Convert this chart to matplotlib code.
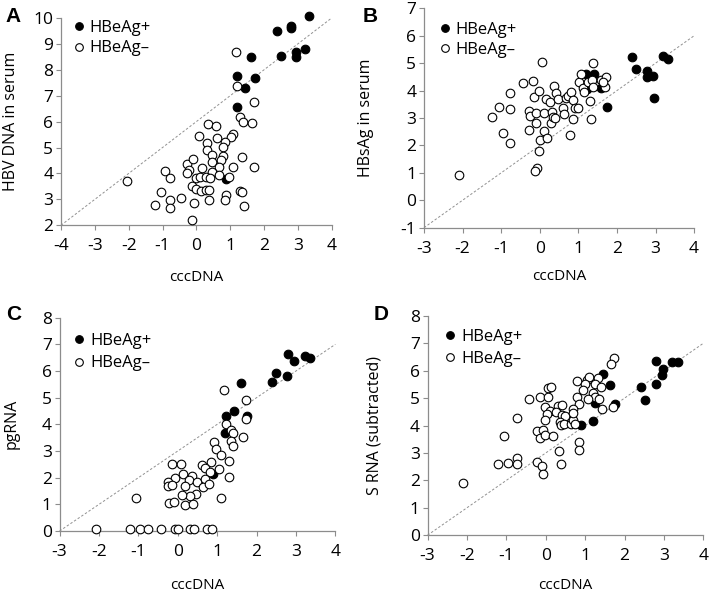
import numpy as np
import matplotlib
matplotlib.use("Agg")
import matplotlib.pyplot as plt
from matplotlib.lines import Line2D

plt.rcParams['font.family'] = ['Open Sans', 'DejaVu Sans']
plt.rcParams['axes.unicode_minus'] = False

# ---- panel A: HBV DNA in serum vs cccDNA
a_pos_x = [3.33, 2.78, 2.79, 2.39, 3.20, 2.93, 2.95, 2.50, 1.60, 1.21, 1.74, 1.43, 1.19, 0.87]
a_pos_y = [10.07, 9.70, 9.62, 9.48, 8.80, 8.67, 8.50, 8.53, 8.50, 7.76, 7.70, 7.30, 6.57, 3.79]
a_neg_x = [1.16, 1.21, 1.69, 1.28, 1.38, 1.63, 0.35, 0.59, 1.08, 1.01, 0.07, 0.61, 0.84, 0.32,
           0.79, 0.30, 0.45, 0.79, 1.36, 0.47, 0.72, -0.27, -0.10, 1.08, 1.71, 0.67, 0.17, -0.23,
           -0.27, -0.94, -0.77, 0.45, 0.00, 0.12, 0.28, 0.40, 0.67, 0.95, -0.14, 0.00, 0.14, 0.28,
           0.36, 1.28, 1.34, -1.06, 0.87, -0.45, -0.77, 0.37, 0.85, -1.22, -0.77, -0.08, 1.40,
           -0.12, -2.05]
a_neg_y = [8.68, 7.38, 6.74, 6.16, 6.00, 5.96, 5.89, 5.82, 5.53, 5.40, 5.45, 5.35, 5.22, 5.19,
           5.02, 4.92, 4.70, 4.66, 4.64, 4.45, 4.50, 4.38, 4.55, 4.25, 4.25, 4.25, 4.21, 4.12,
           4.02, 4.08, 3.83, 4.06, 3.84, 3.87, 3.85, 3.83, 3.93, 3.87, 3.51, 3.40, 3.31, 3.38,
           3.35, 3.32, 3.30, 3.29, 3.17, 3.05, 2.96, 2.99, 2.97, 2.77, 2.67, 2.87, 2.73,
           2.19, 3.70]

# ---- panel B: HBsAg in serum vs cccDNA
b_pos_x = [2.39, 3.20, 3.33, 2.49, 2.77, 2.78, 2.94, 2.96, 1.75, 1.41, 1.21, 1.58, 1.22]
b_pos_y = [5.21, 5.27, 5.14, 4.79, 4.73, 4.50, 4.52, 3.74, 3.39, 4.61, 4.60, 4.08, 4.05]
b_neg_x = [-2.09, -1.23, -1.06, -0.96, -0.77, -0.77, -0.77, -0.44, -0.18, -0.16, -0.28, -0.25,
           -0.28, -0.09, -0.11, -0.02, 0.06, 0.01, -0.01, -0.08, -0.13, 0.10, 0.12, 0.18, 0.16,
           0.27, 0.32, 0.30, 0.34, 0.37, 0.43, 0.46, 0.39, 0.60, 0.63, 0.67, 0.74, 0.82, 0.86,
           0.86, 0.79, 0.91, 0.98, 1.03, 1.08, 1.13, 1.15, 1.24, 1.29, 1.34, 1.37, 1.36, 1.39,
           1.60, 1.69, 1.72, 1.63]
b_neg_y = [0.92, 3.05, 3.39, 2.44, 3.90, 3.33, 2.08, 4.29, 4.36, 3.78, 3.27, 3.09, 2.56, 2.81,
           3.17, 3.98, 5.03, 2.20, 1.81, 1.16, 1.08, 3.17, 2.54, 2.28, 3.68, 3.58, 3.21, 2.83,
           3.02, 4.17, 3.92, 3.71, 2.99, 3.35, 3.13, 3.73, 3.80, 3.96, 3.66, 2.95, 2.38, 3.35,
           3.38, 4.33, 4.61, 4.08, 3.96, 4.33, 3.63, 2.95, 5.02, 4.39, 4.14, 4.39, 4.14, 4.51,
           4.33]

# ---- panel C: pgRNA vs cccDNA
c_pos_x = [2.79, 3.22, 3.35, 2.94, 2.50, 2.77, 2.40, 1.61, 1.42, 1.22, 1.76, 1.20, 0.89]
c_pos_y = [6.64, 6.56, 6.48, 6.38, 5.94, 5.83, 5.60, 5.56, 4.50, 4.31, 4.31, 3.69, 2.14]
c_neg_x = [1.17, 1.72, 1.72, 1.23, 1.34, 1.39, 1.65, 1.36, 1.41, 0.92, 0.97, 1.11, 1.31, 0.85,
           0.62, -0.15, 0.07, 1.04, 0.70, 0.82, 0.13, -0.08, -0.25, -0.25, -0.15, 0.35, 0.29,
           0.49, 0.19, 0.68, 0.64, 0.79, 0.46, 0.30, 0.11, 1.29, 1.09, -1.06, -0.23, -0.10, 0.18,
           0.38, -2.08, -1.20, -0.95, -0.76, -0.42, -0.08, 0.01, 0.32, 0.41, 0.73, 0.87]
c_neg_y = [5.29, 4.91, 4.20, 4.00, 3.79, 3.69, 3.51, 3.37, 3.20, 3.35, 3.07, 2.85, 2.62, 2.57,
           2.47, 2.51, 2.50, 2.32, 2.35, 2.20, 2.14, 1.97, 1.82, 1.67, 1.72, 2.07, 1.91,
           1.85, 1.70, 1.95, 1.66, 1.75, 1.37, 1.31, 1.35, 2.04, 1.22, 1.22, 1.04, 1.07, 0.97,
           1.01, 0.07, 0.07, 0.07, 0.07, 0.07, 0.07, 0.07, 0.07, 0.07, 0.07, 0.07]

# ---- panel D: S RNA (subtracted) vs cccDNA
d_pos_x = [2.79, 3.21, 3.35, 2.97, 2.94, 2.79, 2.41, 2.51, 1.45, 1.62, 1.25, 1.21, 0.89, 1.76]
d_pos_y = [6.36, 6.30, 6.30, 6.06, 5.85, 5.51, 5.39, 4.93, 5.87, 5.47, 4.84, 4.16, 4.01, 4.77]
d_neg_x = [1.74, 1.66, 0.79, 1.04, 1.11, 1.32, 1.24, 1.40, 0.99, 0.94, 1.20, 1.25, 1.08, 1.34,
           0.79, 0.85, 1.44, 1.72, -0.42, -0.14, 0.05, 0.14, 0.07, -0.03, 0.11, 0.30, 0.41,
           0.27, 0.41, 0.49, 0.36, 0.38, 0.47, 0.64, 0.70, 0.70, 0.70, 0.74, 0.03, -0.02, -0.23,
           -0.08, -0.14, -0.03, 0.19, -0.73, -1.05, -1.22, -0.95, -0.73, -0.73, -0.23, -0.10,
           -0.08, 0.34, 0.39, 0.85, 0.85, -2.09]
d_neg_y = [6.47, 6.24, 5.63, 5.65, 5.78, 5.74, 5.53, 5.41, 5.50, 5.29, 5.19, 5.05, 4.98, 4.95,
           5.05, 4.80, 4.62, 4.66, 4.98, 5.05, 5.37, 5.39, 5.05, 4.66, 4.52, 4.71, 4.74,
           4.50, 4.40, 4.35, 4.13, 4.01, 4.04, 4.07, 4.22, 4.62, 4.46, 4.07, 4.41, 4.19, 3.81,
           3.85, 3.53, 3.65, 3.62, 4.26, 3.62, 2.61, 2.64, 2.80, 2.59, 2.67, 2.53,
           2.22, 3.06, 2.59, 3.40, 3.10, 1.91]

panels = [
    # letter, data, ylabel, xlim, ylim, line offset, axes rect, ylabel x, xlabel y, legend anchor, spacing
    ("A", a_pos_x, a_pos_y, a_neg_x, a_neg_y, "HBV DNA in serum", (-4, 4), (2, 10), 6,
     [0.086, 0.622, 0.382, 0.348], -0.155, -0.215, (0.035, 1.005), 0.25),
    ("B", b_pos_x, b_pos_y, b_neg_x, b_neg_y, "HBsAg in serum", (-3, 4), (-1, 7), 2,
     [0.598, 0.618, 0.381, 0.368], -0.185, -0.19, (0.047, 0.955), 0.25),
    ("C", c_pos_x, c_pos_y, c_neg_x, c_neg_y, "pgRNA", (-3, 4), (0, 8), 3,
     [0.084, 0.109, 0.389, 0.358], -0.145, -0.22, (0.041, 0.945), 0.4),
    ("D", d_pos_x, d_pos_y, d_neg_x, d_neg_y, "S RNA (subtracted)", (-3, 4), (0, 8), 3,
     [0.603, 0.102, 0.389, 0.368], -0.163, -0.196, (0.052, 0.955), 0.35),
]
letter_pos = {"A": (0.008, 0.972), "B": (0.512, 0.972), "C": (0.008, 0.472), "D": (0.527, 0.472)}

axis_col = "#8c8c8c"
ms = 6.2

fig = plt.figure(figsize=(7.09, 5.96), dpi=100)

for letter, px, py, nx, ny, ylab, xl, yl, off, rect, ylx, xly, leg_at, lsp in panels:
    ax = fig.add_axes(rect)
    xs = np.array(xl)
    ax.plot(xs, xs + off, color="#909090", lw=0.7, ls=(0, (2.5, 2)), zorder=1)
    ax.plot(px, py, 'o', ms=ms, mfc='black', mec='black', mew=0.8, zorder=2)
    ax.plot(nx, ny, 'o', ms=ms, mfc='white', mec='black', mew=0.8, zorder=3)
    ax.set_xlim(xl)
    ax.set_ylim(yl)
    ax.set_xticks(np.arange(xl[0], xl[1] + 1))
    ax.set_yticks(np.arange(yl[0], yl[1] + 1))
    for s in ['top', 'right']:
        ax.spines[s].set_visible(False)
    for s in ['left', 'bottom']:
        ax.spines[s].set_color(axis_col)
        ax.spines[s].set_linewidth(0.9)
    ax.tick_params(direction='out', length=3.5, width=0.8, color=axis_col, labelsize=12.5)
    ax.tick_params(axis='x', pad=6)
    ax.tick_params(axis='y', pad=2)
    ax.set_xlabel("cccDNA", fontsize=11)
    ax.set_ylabel(ylab, fontsize=11.5)
    ax.xaxis.set_label_coords(0.5, xly)
    ax.yaxis.set_label_coords(ylx, 0.5)
    for art in ax.lines:
        art.set_clip_on(False)

    handles = [Line2D([], [], ls='none', marker='o', ms=5.5, mfc='black', mec='black', mew=0.8),
               Line2D([], [], ls='none', marker='o', ms=5.5, mfc='white', mec='black', mew=0.8)]
    ax.legend(handles, ["HBeAg+", "HBeAg\u2013"], loc='upper left', bbox_to_anchor=leg_at,
              frameon=False, fontsize=12, handlelength=0.6, handletextpad=0.35,
              labelspacing=lsp, borderaxespad=0, borderpad=0.2)

    lx, ly = letter_pos[letter]
    fig.text(lx, ly, letter, fontsize=15, fontweight='bold', family='Liberation Sans',
             ha='left', va='center')

fig.savefig("out.png", dpi=100)
